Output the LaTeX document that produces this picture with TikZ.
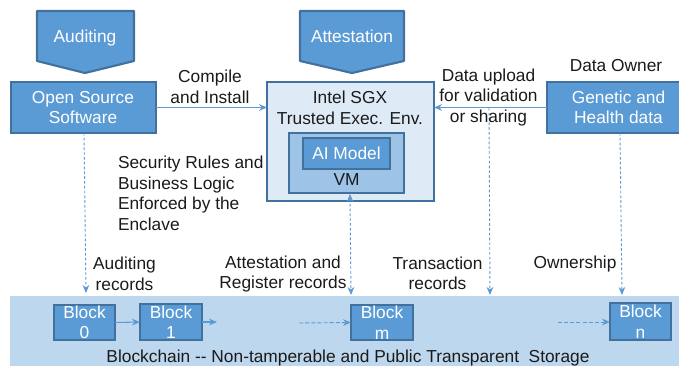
\documentclass[tikz,border=0pt]{standalone}
\usepackage{fontspec}
\setmainfont{Liberation Sans}
\usetikzlibrary{arrows.meta}
\definecolor{bluefill}{HTML}{5B9BD5}
\definecolor{blueline}{HTML}{41719C}
\definecolor{bandfill}{HTML}{BDD7EE}
\definecolor{teefill}{HTML}{DEEBF7}
\definecolor{vmfill}{HTML}{9DC3E6}
\definecolor{inktext}{HTML}{1A1A1A}
\def\u{0.75pt}
\tikzset{
  x=0.75pt,y=-0.75pt,
  every node/.style={font=\fontsize{13}{15.4}\selectfont,text=inktext,align=center,inner sep=0pt,outer sep=0pt},
  bluebox/.style={draw=blueline,fill=bluefill,line width=1.6pt,text=white},
  pentabox/.style={draw=blueline,fill=bluefill,line width=1.6pt,line join=round},
  flow/.style={draw=bluefill,line width=0.8pt,-{Stealth[length=6pt,width=5pt]}},
  record/.style={draw=bluefill,line width=0.7pt,dash pattern=on 2pt off 1.6pt,-{Stealth[length=6pt,width=5pt]}},
  recordboth/.style={record,{Stealth[length=6pt,width=5pt]}-{Stealth[length=6pt,width=5pt]}},
  link/.style={draw=bluefill,line width=0.7pt,dash pattern=on 3pt off 1.6pt,-{Stealth[length=6pt,width=5pt]}},
}
\begin{document}
\begin{tikzpicture}
\useasboundingbox (0,0) rectangle (679,366);
% band
\node[fill=bandfill,minimum width=669*\u,minimum height=70*\u] (band) at (344.5,331) {};
% pentagons
\draw[pentabox] (37,11) -- (134,11) -- (134,61) -- (85,73) -- (37,61) -- cycle;
\draw[pentabox] (300,11) -- (404,11) -- (404,61) -- (352,73) -- (300,61) -- cycle;
\node[text=white,anchor=base] (auditing) at (85,42.5) {Auditing};
\node[text=white,anchor=base] (attestation) at (352,42.5) {Attestation};
% main boxes
\node[bluebox,minimum width=145*\u,minimum height=51*\u,anchor=center] (open) at (83.5,107.5) {};
\node[text=white] (opentext) at (83,107.5) {Open Source\\Software};
\node[bluebox,fill=teefill,minimum width=167*\u,minimum height=119*\u] (intel) at (350.5,141.5) {};
\node (inteltext) at (350,108) {Intel SGX\\Trusted Exec. Env.};
\node[bluebox,fill=vmfill,minimum width=115*\u,minimum height=60*\u] (vm) at (346.5,163) {};
\node[bluebox,minimum width=87*\u,minimum height=31*\u] (model) at (346.5,153.5) {AI Model};
\node (vmtext) at (346.5,179.5) {VM};
\node[bluebox,minimum width=140*\u,minimum height=51*\u] (genetic) at (617,107.5) {};
\node[text=white] (genetictext) at (618.5,107.5) {Genetic and\\Health data};
% blocks
\node[bluebox,minimum width=61*\u,minimum height=35*\u] (b0) at (84.5,322.5) {Block\\0};
\node[bluebox,minimum width=62*\u,minimum height=36*\u] (b1) at (171,322) {Block\\1};
\node[bluebox,minimum width=62*\u,minimum height=35*\u] (bm) at (382,322.5) {Block\\m};
\node[bluebox,minimum width=61*\u,minimum height=37*\u] (bn) at (640.5,321.5) {Block\\n};
% free ends
\coordinate (n1) at (217,322);
\coordinate (m0) at (299,323);
\coordinate (n0) at (558,322);
\coordinate (aud0) at (84,133);
\coordinate (aud1) at (86,293);
\coordinate (att0) at (350,194);
\coordinate (att1) at (351,295);
\coordinate (tx0) at (489,108);
\coordinate (tx1) at (490,295);
\coordinate (own0) at (620,133);
\coordinate (own1) at (622,295);
% connectors
\draw[flow] (open.east) -- (open.east -| intel.west);
\draw[flow] (genetic.west) -- (genetic.west -| intel.east);
\draw[flow] (b0.east) -- (b1.west);
\draw[flow] (b1.east) -- (n1);
\draw[link] (m0) -- (bm.west);
\draw[link] (n0) -- (n0 -| bn.west);
\draw[record] (aud0) -- (aud1);
\draw[recordboth] (att0) -- (att1);
\draw[record] (tx0) -- (tx1);
\draw[record] (own0) -- (own1);
% labels
\node (compile) at (210,87) {Compile\\and Install};
\node (upload) at (488.5,97.5) {Data upload\\for validation\\or sharing};
\node (owner) at (616,65.5) {Data Owner};
\node[anchor=west,align=left] (rules) at (118,193.5) {Security Rules and\\Business Logic\\Enforced by the\\Enclave};
\node (audrec) at (124.5,274) {Auditing\\records};
\node (attrec) at (283,274) {Attestation and\\Register records};
\node (txrec) at (437.5,273.5) {Transaction\\records};
\node (ownrec) at (575,264.5) {Ownership};
\node (chain) at (348,358) {Blockchain -{}- Non-tamperable and Public Transparent\ \ Storage};
\end{tikzpicture}
\end{document}
